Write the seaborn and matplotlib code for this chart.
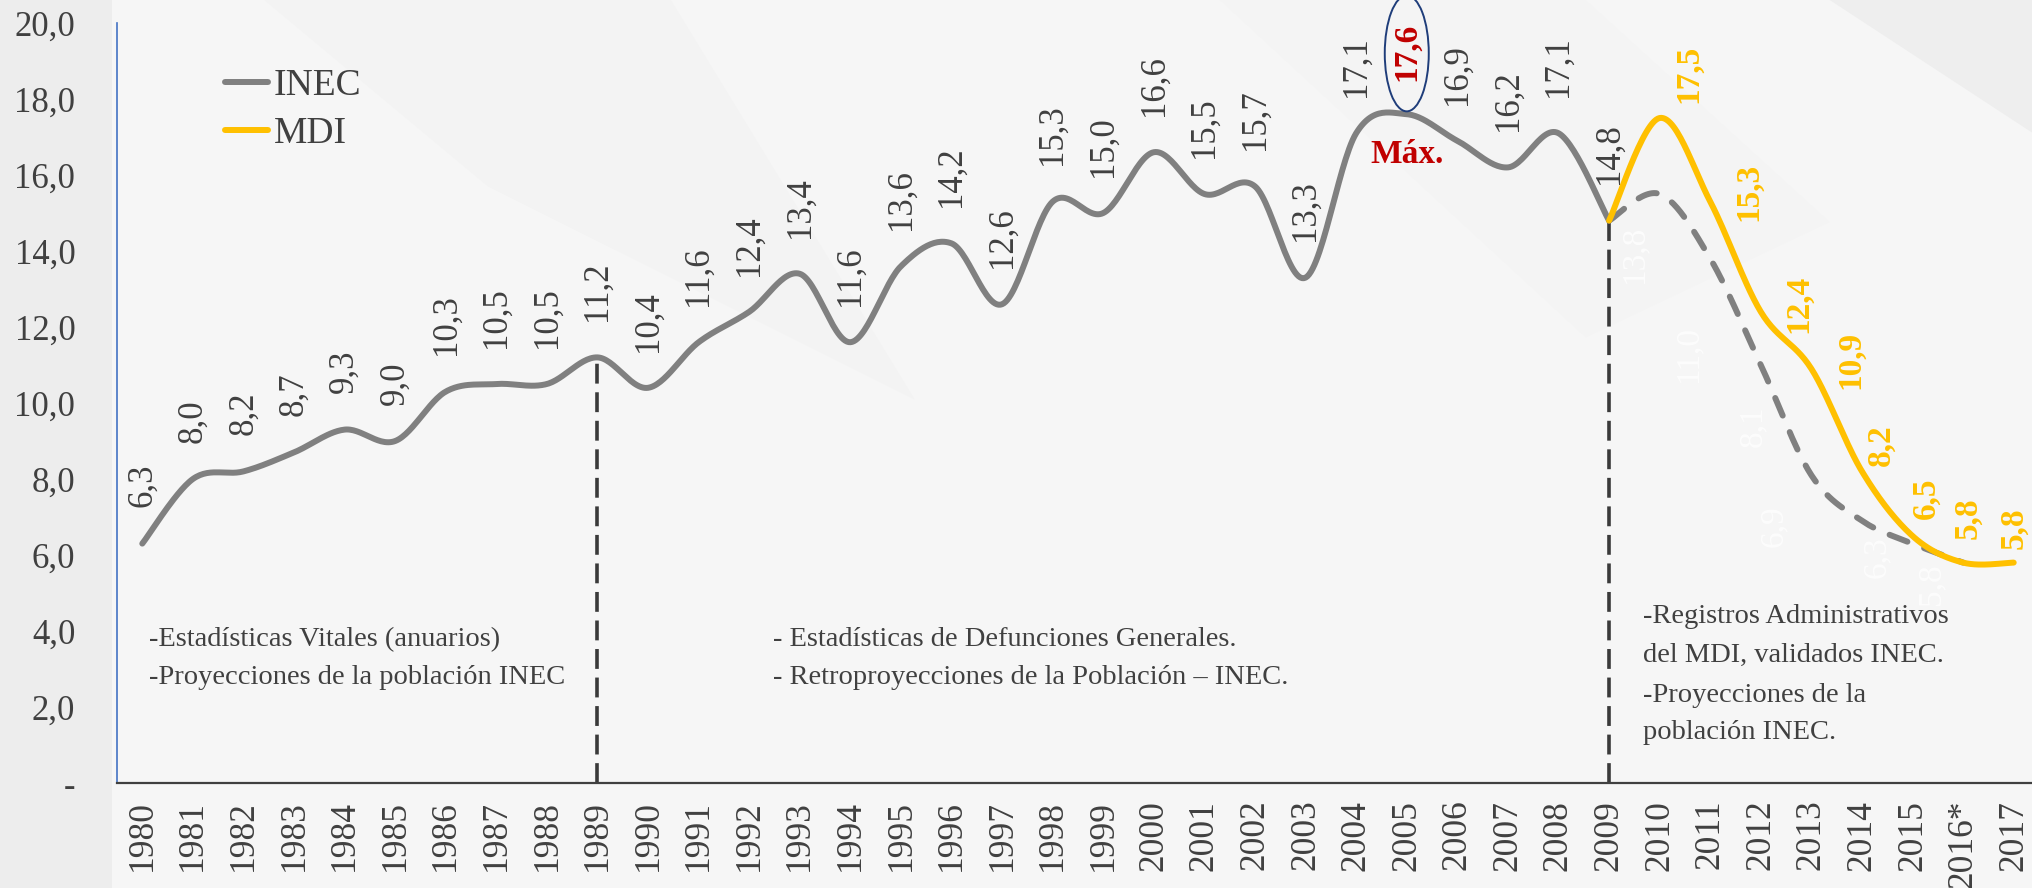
import numpy as np
import pandas as pd
import matplotlib
matplotlib.use("Agg")
import matplotlib.pyplot as plt
import seaborn as sns
from matplotlib.patches import Ellipse, Polygon
from matplotlib.lines import Line2D

# ------------------------------------------------------------
# DATOS
# ------------------------------------------------------------
years = [str(y) for y in range(1980, 2016)] + ["2016*", "2017"]

inec_years = list(range(1980, 2010))
inec_vals = [6.3, 8.0, 8.2, 8.7, 9.3, 9.0, 10.3, 10.5, 10.5, 11.2,
             10.4, 11.6, 12.4, 13.4, 11.6, 13.6, 14.2, 12.6, 15.3, 15.0,
             16.6, 15.5, 15.7, 13.3, 17.1, 17.6, 16.9, 16.2, 17.1, 14.8]

inec_proj_years = list(range(2009, 2017))
inec_proj_vals = [14.8, 15.5, 13.8, 11.0, 8.1, 6.9, 6.3, 5.8]

mdi_years = list(range(2009, 2018))
mdi_vals = [14.8, 17.5, 15.3, 12.4, 10.9, 8.2, 6.5, 5.8, 5.8]

split_years = [1989, 2009]
peak_year = 2005

# ------------------------------------------------------------
# ESTILO
# ------------------------------------------------------------
sns.set_theme(style="white")
plt.rcParams["font.family"] = ["Liberation Serif", "DejaVu Serif"]

GRAY = "#808080"
YELLOW = "#FFC000"
TXT = "#404040"
RED = "#C00000"
BG = "#f6f6f6"


def idx(year):
    return year - 1980


def fmt(v):
    return f"{v:.1f}".replace(".", ",")


def smooth(xs, ys, n=30):
    # suavizado tipo Excel (Catmull-Rom / Bezier)
    pts = np.column_stack([xs, ys]).astype(float)
    out = []
    for i in range(len(pts) - 1):
        p0 = pts[max(i - 1, 0)]
        p1 = pts[i]
        p2 = pts[i + 1]
        p3 = pts[min(i + 2, len(pts) - 1)]
        c1 = p1 + (p2 - p0) / 6
        c2 = p2 - (p3 - p1) / 6
        t = np.linspace(0, 1, n)[:, None]
        seg = (1 - t) ** 3 * p1 + 3 * (1 - t) ** 2 * t * c1 + 3 * (1 - t) * t ** 2 * c2 + t ** 3 * p2
        out.append(seg if i == 0 else seg[1:])
    arr = np.vstack(out)
    return pd.DataFrame({"x": arr[:, 0], "y": arr[:, 1]})


fig = plt.figure(figsize=(20.33, 8.88), dpi=100, facecolor=BG)

# fondo con formas suaves
shapes = [
    ([(0, 0), (0.055, 0), (0.055, 1), (0, 1)], "#ededed"),
    ([(0.13, 1), (0.24, 0.79), (0.45, 0.55), (0.33, 1)], "#f3f3f3"),
    ([(0.6, 1), (0.78, 0.62), (0.9, 0.75), (0.78, 1)], "#f4f4f4"),
    ([(0.9, 1), (1, 0.85), (1, 1)], "#eeeeee"),
]
for pts, col in shapes:
    fig.add_artist(Polygon(pts, closed=True, transform=fig.transFigure,
                           facecolor=col, edgecolor="none", zorder=0))

ax = fig.add_axes([117 / 2033, 105 / 888, 1922 / 2033, 760 / 888])
ax.set_facecolor("none")

# líneas verticales de corte
for y in split_years:
    v = inec_vals[inec_years.index(y)]
    ax.plot([idx(y), idx(y)], [0, v], color="#3a3a3a", lw=2.6,
            linestyle=(0, (5.5, 2.4)), zorder=2)

# series
proj = smooth([idx(y) for y in inec_proj_years], inec_proj_vals)
sns.lineplot(data=proj, x="x", y="y", ax=ax, sort=False, estimator=None,
             color=GRAY, lw=4.3, linestyle=(0, (3.2, 3.0)),
             dash_capstyle="round", zorder=3)

inec = smooth([idx(y) for y in inec_years], inec_vals)
sns.lineplot(data=inec, x="x", y="y", ax=ax, sort=False, estimator=None,
             color=GRAY, lw=4.3, solid_capstyle="round", zorder=4)

mdi = smooth([idx(y) for y in mdi_years], mdi_vals)
sns.lineplot(data=mdi, x="x", y="y", ax=ax, sort=False, estimator=None,
             color=YELLOW, lw=4.3, solid_capstyle="round", zorder=5)

# etiquetas INEC
for y, v in zip(inec_years, inec_vals):
    if y == peak_year:
        continue
    ax.annotate(fmt(v), (idx(y), v), xytext=(0, 26), textcoords="offset points",
                rotation=90, ha="center", va="bottom", fontsize=25, color=TXT, zorder=6)

# máximo
pv = inec_vals[inec_years.index(peak_year)]
ax.text(idx(peak_year), 19.25, fmt(pv), rotation=90, ha="center", va="center",
        fontsize=24, fontweight="bold", color=RED, zorder=7)
ax.add_patch(Ellipse((idx(peak_year), 19.2), 0.87, 3.05, facecolor="none",
                     edgecolor="#1f3d7a", lw=1.4, clip_on=False, zorder=7))
ax.text(idx(peak_year), 16.55, "Máx.", ha="center", va="center", fontsize=24,
        fontweight="bold", color=RED, zorder=7)

# etiquetas MDI (posiciones ajustadas a mano)
mdi_offsets = [None, (0.57, 1.15), (0.76, 0.25), (0.75, 0.2), (0.77, 0.24),
               (0.37, 0.68), (0.26, 1.0), (0.1, 1.17), (0.0, 0.9)]
for y, v, off in zip(mdi_years, mdi_vals, mdi_offsets):
    if off is None:
        continue
    ax.text(idx(y) + off[0], v + off[1], fmt(v), rotation=90, ha="center", va="center",
            fontsize=24, fontweight="bold", color=YELLOW, zorder=7)

# etiquetas blancas de la proyección INEC (casi invisibles)
proj_offsets = [None, None, (-1.5, 0.1), (-1.43, 0.27), (-1.16, 1.3),
                (-1.75, -0.14), (-0.7, -0.36), (-0.64, -0.58)]
for y, v, off in zip(inec_proj_years, inec_proj_vals, proj_offsets):
    if off is None:
        continue
    ax.text(idx(y) + off[0], v + off[1], fmt(v), rotation=90, ha="center", va="center",
            fontsize=24, color="white", alpha=0.75, zorder=6)

# ejes
ax.set_xlim(-0.5, len(years) - 0.5)
ax.set_ylim(0, 20)
ax.set_xticks(range(len(years)))
ax.set_xticklabels(years, rotation=90, fontsize=25.5, color=TXT)
yt = np.arange(0, 21, 2)
ax.set_yticks(yt)
ax.set_yticklabels(["-"] + [fmt(v) for v in yt[1:]], fontsize=25, color=TXT)
ax.tick_params(axis="x", length=0, pad=12)
ax.tick_params(axis="y", length=0, pad=30)
ax.set_xlabel("")
ax.set_ylabel("")
ax.grid(False)
for s in ["top", "right"]:
    ax.spines[s].set_visible(False)
ax.spines["left"].set_color("#4472c4")
ax.spines["left"].set_linewidth(1.2)
ax.spines["bottom"].set_color("#404040")
ax.spines["bottom"].set_linewidth(1.6)

# leyenda
handles = [Line2D([], [], color=GRAY, lw=4.3, solid_capstyle="round"),
           Line2D([], [], color=YELLOW, lw=4.3, solid_capstyle="round")]
leg = ax.legend(handles, ["INEC", "MDI"], loc="center left",
                bbox_to_anchor=(225 / 2033, 1 - 110 / 888), bbox_transform=fig.transFigure,
                frameon=False, fontsize=27, handlelength=1.15, handletextpad=0.15,
                labelspacing=0.35, borderpad=0, borderaxespad=0)
for t in leg.get_texts():
    t.set_color(TXT)

# notas de fuentes
notes = [
    (149, 640, "-Estadísticas Vitales (anuarios)"),
    (149, 677, "-Proyecciones de la población INEC"),
    (773, 640, "- Estadísticas de Defunciones Generales."),
    (773, 677, "- Retroproyecciones de la Población – INEC."),
    (1643, 616, "-Registros Administrativos"),
    (1643, 655, "del MDI, validados INEC."),
    (1643, 695, "-Proyecciones de la"),
    (1643, 732, "población INEC."),
]
for x, y, s in notes:
    fig.text(x / 2033, 1 - y / 888, s, ha="left", va="center", fontsize=20.5, color=TXT)

fig.savefig("out.png", dpi=100, facecolor=BG)
